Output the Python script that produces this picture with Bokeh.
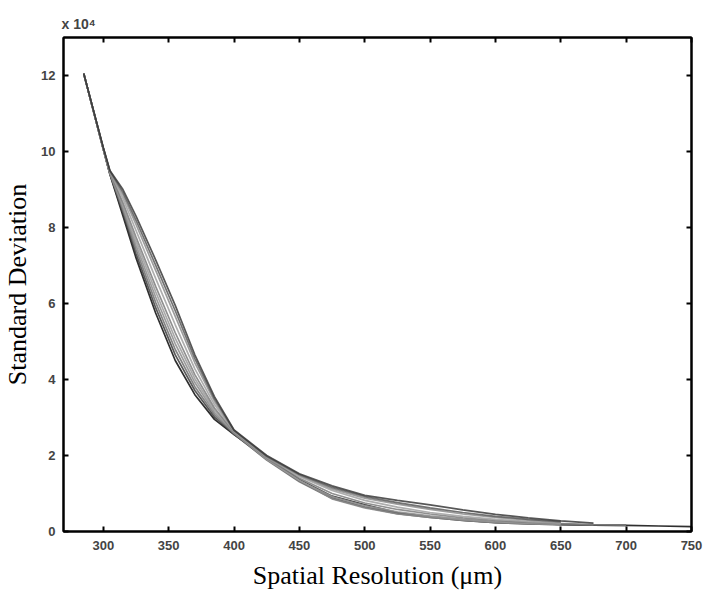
from bokeh.plotting import figure
from bokeh.models import LinearAxis, FixedTicker, Range1d
from bokeh.embed import file_html
from bokeh.resources import INLINE

# Spatial resolution (um) sample positions
xs = [285, 300, 305, 315, 325, 340, 355, 370, 385, 400, 425, 450, 475, 500,
      525, 550, 575, 600, 625, 650, 675, 700, 725, 750]

# Standard deviation curves (units of 10^4), each ends at its own resolution
curve_a = [12.05, 10.05, 9.40, 8.30, 7.20, 5.75, 4.50, 3.60, 2.95, 2.55, 1.95, 1.36, 0.93, 0.70,
           0.50, 0.39, 0.30, 0.24, 0.21, 0.19, 0.17, 0.16, 0.145, 0.13]
curve_b = [12.05, 10.05, 9.41, 8.37, 7.31, 5.89, 4.65, 3.71, 3.01, 2.56, 1.90, 1.33, 0.88, 0.64,
           0.47, 0.37, 0.29, 0.23, 0.20, 0.18, 0.17, 0.16]
curve_c = [12.05, 10.06, 9.42, 8.44, 7.42, 6.03, 4.79, 3.81, 3.07, 2.57, 1.88, 1.31, 0.87, 0.64,
           0.49, 0.39, 0.31, 0.25, 0.22, 0.19, 0.17]
curve_j = [12.05, 10.06, 9.43, 8.51, 7.53, 6.17, 4.94, 3.92, 3.13, 2.59, 1.91, 1.35, 0.86, 0.62,
           0.46, 0.37, 0.29, 0.23, 0.20, 0.18]
curve_d = [12.05, 10.07, 9.44, 8.58, 7.64, 6.31, 5.08, 4.02, 3.19, 2.60, 1.90, 1.34, 0.92, 0.68,
           0.52, 0.41, 0.32, 0.26, 0.22, 0.20]
curve_e = [12.05, 10.07, 9.45, 8.65, 7.75, 6.45, 5.23, 4.13, 3.25, 2.61, 1.93, 1.40, 1.00, 0.75,
           0.58, 0.46, 0.36, 0.29, 0.24, 0.21, 0.18, 0.165]
curve_f = [12.05, 10.08, 9.47, 8.76, 7.92, 6.66, 5.44, 4.28, 3.34, 2.63, 1.95, 1.45, 1.08, 0.82,
           0.64, 0.50, 0.40, 0.32, 0.26, 0.22]
curve_g = [12.05, 10.08, 9.48, 8.86, 8.08, 6.87, 5.66, 4.44, 3.43, 2.65, 1.97, 1.48, 1.12, 0.88,
           0.72, 0.58, 0.46, 0.37, 0.30, 0.24]
curve_h = [12.05, 10.09, 9.49, 8.93, 8.19, 7.01, 5.81, 4.55, 3.49, 2.66, 1.98, 1.50, 1.16, 0.92,
           0.76, 0.62, 0.50, 0.40, 0.32, 0.26]
curve_i = [12.05, 10.10, 9.50, 9.00, 8.30, 7.15, 5.95, 4.65, 3.55, 2.67, 2.00, 1.52, 1.20, 0.95,
           0.82, 0.70, 0.57, 0.45, 0.36, 0.28, 0.22]

curves = [curve_a, curve_b, curve_c, curve_j, curve_d, curve_e, curve_f, curve_g, curve_h, curve_i]
shades = ["#0a0a0a", "#3c3c3c", "#6e6e6e", "#8a8a8a", "#9a9a9a", "#7c7c7c",
          "#a0a0a0", "#8c8c8c", "#5a5a5a", "#3a3a3a"]

x_ticks = [300, 350, 400, 450, 500, 550, 600, 650, 700, 750]
y_ticks = [0, 2, 4, 6, 8, 10, 12]

p = figure(frame_width=628, frame_height=494, output_backend="svg", toolbar_location=None,
           x_range=Range1d(269.5, 750), y_range=Range1d(0, 13),
           min_border_left=56, min_border_right=16, min_border_top=37, min_border_bottom=56,
           title="x 10⁴")

for ys, col in zip(curves, shades):
    p.line(xs[:len(ys)], ys, line_color=col, line_width=1.7, line_alpha=0.85)

p.grid.visible = False
p.outline_line_color = "black"
p.outline_line_width = 2

p.title.align = "left"
p.title.text_font = "Liberation Sans"
p.title.text_font_style = "bold"
p.title.text_font_size = "14px"
p.title.standoff = 12
p.title.offset = -2

tick_font = "Liberation Sans"
for ax in (p.xaxis[0], p.yaxis[0]):
    ax.major_tick_in = 5
    ax.major_tick_out = 0
    ax.minor_tick_line_color = None
    ax.axis_line_width = 2
    ax.major_tick_line_width = 2
    ax.major_label_text_font = tick_font
    ax.major_label_text_font_style = "bold"
    ax.major_label_text_font_size = "13px"
    ax.axis_label_text_font = "Liberation Serif"
    ax.axis_label_text_font_style = "normal"
    ax.axis_label_text_font_size = "26px"
    ax.axis_label_text_color = "black"

p.xaxis[0].ticker = FixedTicker(ticks=x_ticks)
p.yaxis[0].ticker = FixedTicker(ticks=y_ticks)
p.xaxis[0].axis_label = "Spatial Resolution (μm)"
p.yaxis[0].axis_label = "Standard Deviation"
p.xaxis[0].major_label_standoff = 9
p.yaxis[0].major_label_standoff = 8
p.xaxis[0].axis_label_standoff = 8
p.yaxis[0].axis_label_standoff = 6

right = LinearAxis(ticker=FixedTicker(ticks=y_ticks), major_label_text_font_size="1px",
                   major_label_text_color=None,
                   major_tick_in=5, major_tick_out=0, minor_tick_line_color=None,
                   major_tick_line_width=2, axis_line_width=2, major_label_standoff=0)
top = LinearAxis(ticker=FixedTicker(ticks=x_ticks), major_label_text_font_size="1px",
                 major_label_text_color=None,
                 major_tick_in=5, major_tick_out=0, minor_tick_line_color=None,
                 major_tick_line_width=2, axis_line_width=2, major_label_standoff=0)
p.add_layout(right, "right")
p.add_layout(top, "above")

open("out.html", "w").write(file_html(p, INLINE))
